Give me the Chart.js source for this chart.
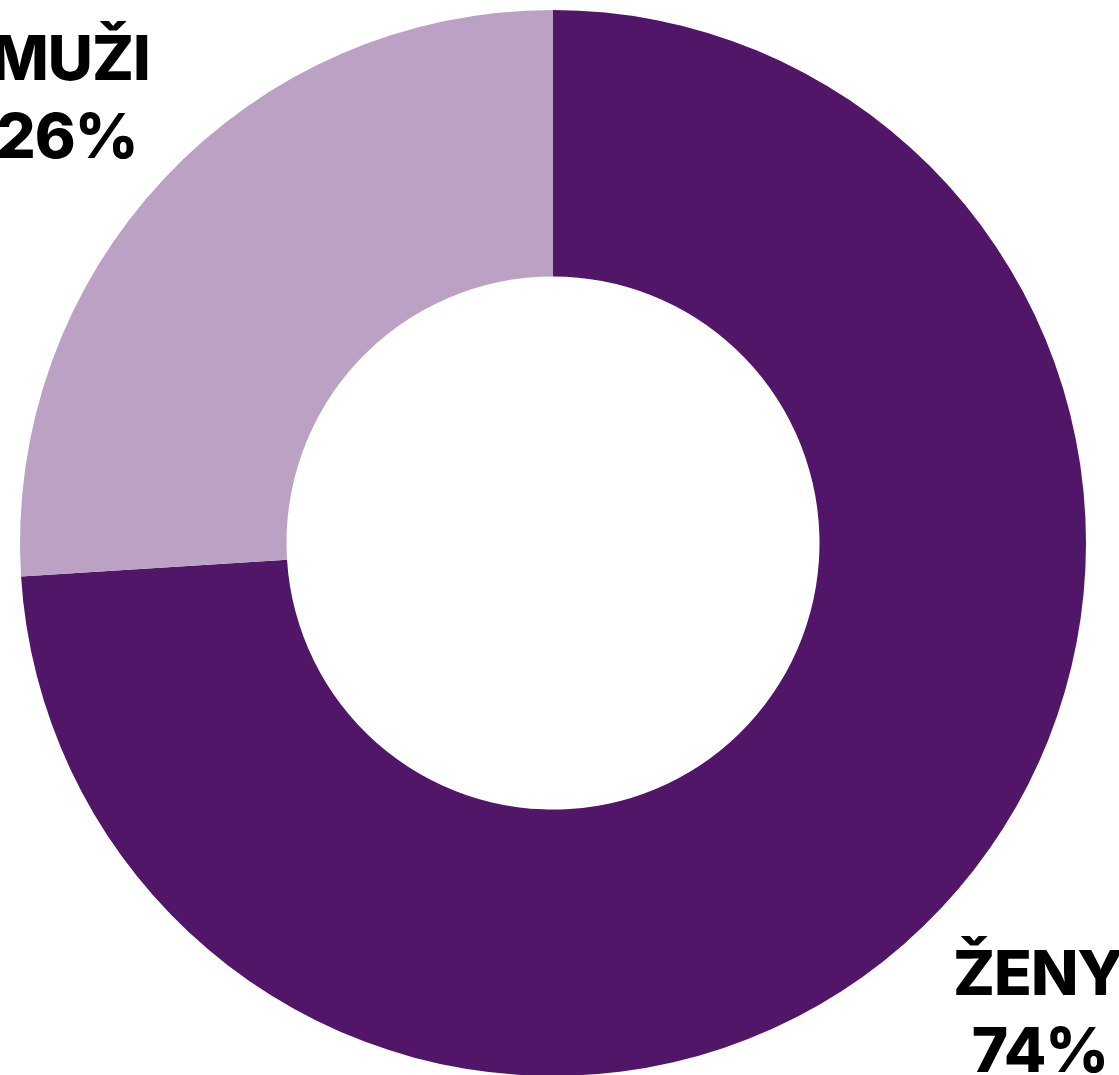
<!DOCTYPE html>
<html>
<head>
<meta charset="utf-8">
<script src="https://cdn.jsdelivr.net/npm/chart.js@4/dist/chart.umd.min.js"></script>
<style>
  html, body { margin: 0; padding: 0; background: #fff; overflow: hidden; }
  #wrap { width: 1119px; height: 1100px; position: relative; }
</style>
</head>
<body>
<div id="wrap"><canvas id="graf"></canvas></div>
<script>
//--|datos|--//
const categorias = ["ŽENY", "MUŽI"];
const porcentajes = [74, 26];
const colores = ["#521668", "#BBA2C4"];

//--|etiquetas de texto|--//
const etiquetas = {
    id: "etiquetas",
    afterDraw(chart) {
        const ctx = chart.ctx;
        ctx.save();
        ctx.fillStyle = "#000";
        ctx.font = "800 62px Inter, 'Liberation Sans', sans-serif";
        ctx.letterSpacing = "-1px";
        ctx.textAlign = "center";
        ctx.textBaseline = "alphabetic";
        // MUŽI arriba a la izquierda
        ctx.fillText(categorias[1], 70, 80);
        ctx.fillText(porcentajes[1] + "%", 67, 158);
        // ŽENY abajo a la derecha
        ctx.fillText(categorias[0], 1038, 995);
        ctx.fillText(porcentajes[0] + "%", 1040, 1072);
        ctx.restore();
    }
};

new Chart(document.getElementById("graf"), {
    type: "doughnut",
    data: {
        labels: categorias,
        datasets: [{
            data: porcentajes,
            backgroundColor: colores,
            borderWidth: 0
        }]
    },
    options: {
        responsive: true,
        maintainAspectRatio: false,
        animation: false,
        cutout: "50%",
        layout: { padding: { left: 20, right: 33, top: 10, bottom: 24 } },
        plugins: {
            legend: { display: false },
            tooltip: { enabled: false }
        }
    },
    plugins: [etiquetas]
});
</script>
</body>
</html>
